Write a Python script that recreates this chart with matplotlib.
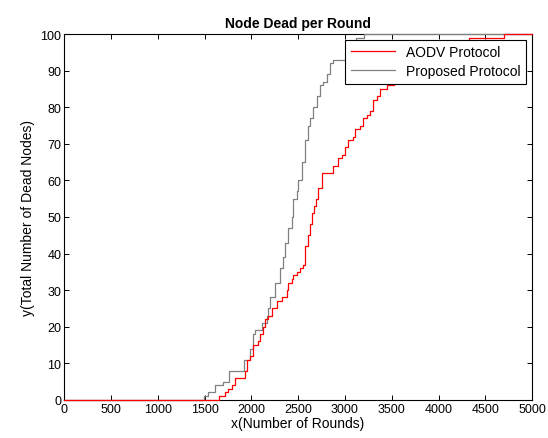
import matplotlib
matplotlib.use("Agg")
import matplotlib.pyplot as plt

# Number of dead nodes per round (step curves)
aodv_rounds = [0, 1654, 1718, 1750, 1793, 1825, 1931, 1953, 1985, 2017, 2070,
               2091, 2123, 2145, 2177, 2219, 2273, 2326, 2379, 2390, 2433,
               2443, 2486, 2518, 2550, 2572, 2604, 2625, 2646, 2668, 2689,
               2710, 2753, 2870, 2924, 2966, 2998, 3030, 3084, 3105, 3158,
               3190, 3233, 3265, 3297, 3340, 3372, 3446, 3520, 3620, 3780,
               3950, 4150, 4330, 4700, 5000]
aodv_dead = [0, 1, 2, 3, 4, 6, 8, 11, 12, 15, 16,
             18, 20, 22, 23, 25, 27, 28, 30, 32, 33,
             34, 35, 36, 37, 42, 45, 48, 51, 53, 55,
             58, 62, 64, 66, 67, 69, 71, 72, 74, 75,
             77, 78, 79, 82, 83, 85, 86, 88, 90, 92,
             94, 96, 99, 100, 100]

proposed_rounds = [0, 1494, 1536, 1611, 1696, 1760, 1920, 1985, 2017, 2038,
                   2113, 2166, 2177, 2198, 2251, 2305, 2337, 2358, 2390,
                   2433, 2443, 2486, 2497, 2540, 2572, 2604, 2625, 2657,
                   2700, 2731, 2763, 2806, 2838, 2870, 3000, 3060, 3120,
                   3200, 5000]
proposed_dead = [0, 1, 2, 4, 5, 8, 11, 14, 18, 19,
                 21, 23, 25, 28, 32, 36, 39, 43, 47,
                 50, 55, 57, 60, 65, 71, 75, 77, 80,
                 83, 86, 87, 89, 92, 93, 93, 96, 99,
                 100, 100]

plt.rcParams['font.family'] = ['Liberation Sans', 'DejaVu Sans']

fig = plt.figure(figsize=(5.48, 4.39), dpi=100)
ax = fig.add_axes([0.117, 0.087, 0.854, 0.833])

# gray first so the red baseline stays visible on top
l2, = ax.step(proposed_rounds, proposed_dead, where='post', color='#808080',
              lw=0.9, label='Proposed Protocol', zorder=3, clip_on=False)
l1, = ax.step(aodv_rounds, aodv_dead, where='post', color='red', lw=0.9,
              label='AODV Protocol', zorder=3, clip_on=False)

ax.set_xlim(0, 5000)
ax.set_ylim(0, 100)
ax.set_xticks(range(0, 5001, 500))
ax.set_yticks(range(0, 101, 10))
ax.tick_params(direction='in', top=True, right=True, labelsize=9,
               length=3.5, width=0.7, pad=2)
for s in ax.spines.values():
    s.set_linewidth(0.8)

ax.set_title('Node Dead per Round', fontsize=10, fontweight='bold', pad=5)
ax.set_xlabel('x(Number of Rounds)', fontsize=10, labelpad=1)
ax.set_ylabel('y(Total Number of Dead Nodes)', fontsize=10, labelpad=4)

leg = ax.legend(handles=[l1, l2], loc='upper right',
                bbox_to_anchor=(0.988, 0.985),
                fontsize=10, fancybox=False, framealpha=1,
                edgecolor='black', borderpad=0.4, handlelength=3.2,
                labelspacing=0.35, borderaxespad=0)
leg.get_frame().set_linewidth(0.8)
leg.set_zorder(5)

fig.savefig('out.png', dpi=100)
